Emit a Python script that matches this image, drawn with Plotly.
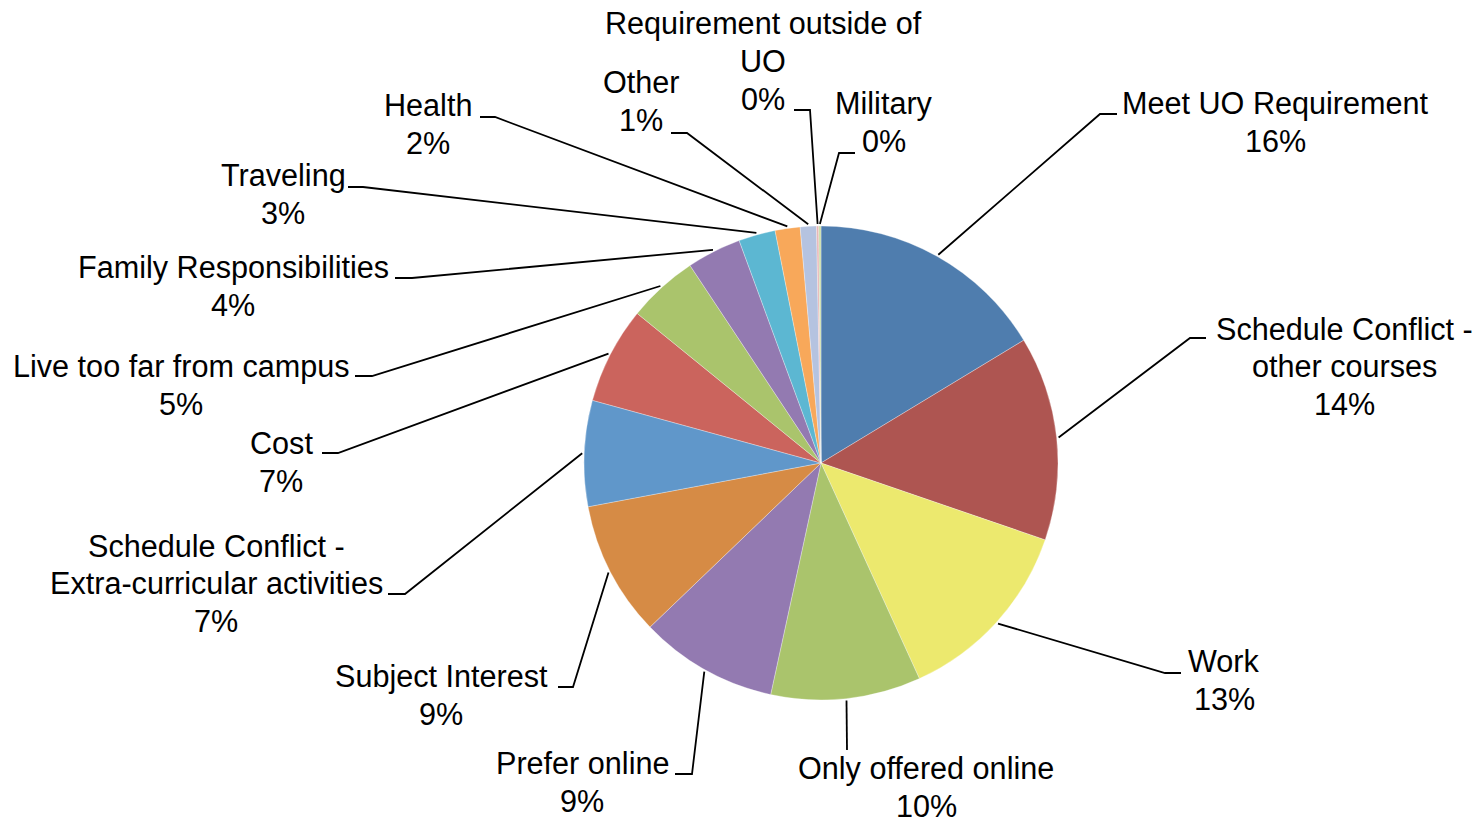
import math
import plotly.graph_objects as go

# ---- data ----
categories = [
    "Meet UO Requirement",
    "Schedule Conflict - other courses",
    "Work",
    "Only offered online",
    "Prefer online",
    "Subject Interest",
    "Schedule Conflict - Extra-curricular activities",
    "Cost",
    "Live too far from campus",
    "Family Responsibilities",
    "Traveling",
    "Health",
    "Other",
    "Requirement outside of UO",
    "Military",
]
values = [16.3, 13.9, 12.9, 10.2, 9.4, 9.2, 7.2, 6.6, 4.8, 3.7, 2.5, 1.7, 1.1, 0.15, 0.15]
colors = [
    "#4F7DAE", "#AE5551", "#ECE96E", "#AAC46C", "#937AB1", "#D68B45",
    "#6097CA", "#CB645D", "#AAC46C", "#937AB1", "#5CB7D2", "#F8A85A",
    "#B5C3E0", "#E8B4B4", "#C9DCA8",
]

# wrapped display names
wrapped = {
    "Schedule Conflict - other courses": ["Schedule Conflict -", "other courses"],
    "Schedule Conflict - Extra-curricular activities": ["Schedule Conflict -", "Extra-curricular activities"],
    "Requirement outside of UO": ["Requirement outside of", "UO"],
}

# ---- layout geometry (in window pixels) ----
W, H = 1482, 824
CX, CY, R = 821, 463, 237
LINE_H = 37.5
FONT = dict(family="Liberation Sans, Arial, sans-serif", size=30.6, color="black")

# label block centres, elbow point and end of horizontal tick for each category
label_pos = [
    (1275, 122), (1344, 366), (1224, 680), (926, 787), (582, 782),
    (441, 695), (216, 583), (281, 462), (181, 385), (233, 286),
    (283, 194), (428, 124), (641, 101), (763, 61), (884, 122),
]
elbows = [
    ((1100, 114), (1117, 114)),
    ((1190, 338), (1206, 338)),
    ((1165, 673), (1181, 673)),
    ((847, 750), (847, 750)),
    ((692, 774), (675, 774)),
    ((573, 687), (558, 687)),
    ((405, 594), (388, 594)),
    ((338, 453), (322, 453)),
    ((372, 376), (355, 376)),
    ((412, 278), (395, 278)),
    ((363, 187), (348, 187)),
    ((495, 117), (480, 117)),
    ((687, 133), (671, 133)),
    ((810, 110), (794, 110)),
    ((839, 153), (855, 153)),
]

fig = go.Figure()
fig.add_trace(go.Pie(
    labels=categories,
    values=values,
    sort=False,
    direction="clockwise",
    rotation=0,
    marker=dict(colors=colors, line=dict(color="rgba(255,255,255,0.5)", width=0.6)),
    textinfo="none",
    hoverinfo="label+percent",
    showlegend=False,
    domain=dict(
        x=[(CX - R) / W, (CX + R) / W],
        y=[(H - CY - R) / H, (H - CY + R) / H],
    ),
))

# invisible pixel axes for annotations / leader lines
fig.add_trace(go.Scatter(x=[0, W], y=[0, H], mode="markers",
                         marker=dict(opacity=0), hoverinfo="skip", showlegend=False))

total = sum(values)
cum = 0.0
shapes = []
annotations = []
for i, (name, v) in enumerate(zip(categories, values)):
    mid = (cum + v / 2) / total * 2 * math.pi
    cum += v
    sx = CX + (R + 2) * math.sin(mid)
    sy = CY - (R + 2) * math.cos(mid)
    (ex, ey), (hx, hy) = elbows[i]
    shapes.append(dict(
        type="path", xref="x", yref="y",
        path=f"M {sx:.1f},{sy:.1f} L {ex},{ey} L {hx},{hy}",
        line=dict(color="black", width=1.8),
    ))
    pct = round(v / total * 100)
    lines = wrapped.get(name, [name]) + [f"{pct}%"]
    lx, ly = label_pos[i]
    n = len(lines)
    for k, t in enumerate(lines):
        annotations.append(dict(
            x=lx, y=ly + (k - (n - 1) / 2) * LINE_H, xref="x", yref="y",
            text=t, showarrow=False,
            xanchor="center", yanchor="middle", align="center",
            font=FONT,
        ))

fig.update_layout(
    width=W, height=H,
    margin=dict(l=0, r=0, t=0, b=0),
    paper_bgcolor="white", plot_bgcolor="white",
    xaxis=dict(range=[0, W], visible=False, fixedrange=True),
    yaxis=dict(range=[H, 0], visible=False, fixedrange=True),
    shapes=shapes,
    annotations=annotations,
)

fig.write_html(
    "out.html",
    config={"displayModeBar": False},
    post_script="document.body.style.margin='0';document.body.style.overflow='hidden';",
)
